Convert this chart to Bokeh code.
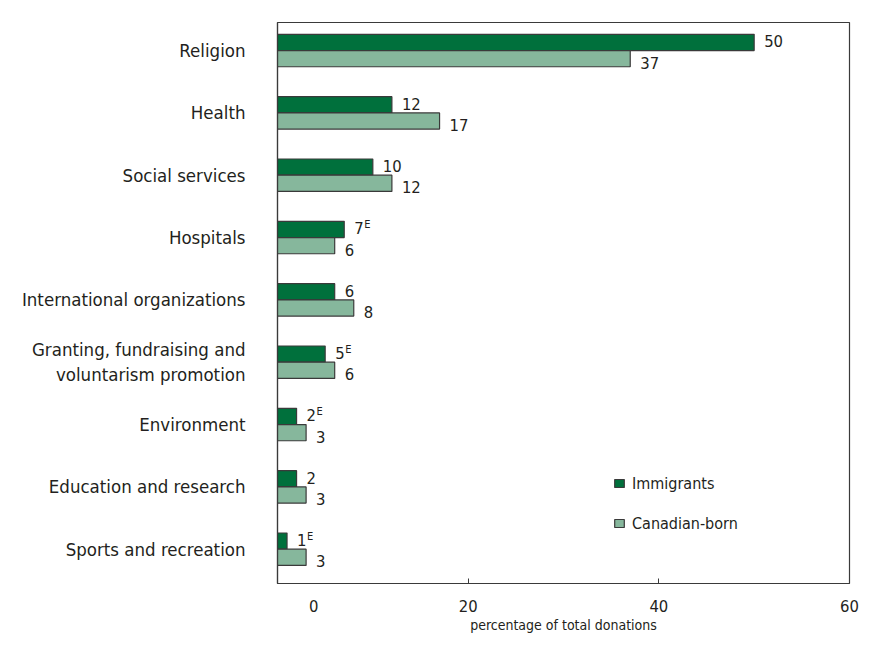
from bokeh.plotting import figure
from bokeh.models import ColumnDataSource, Range1d, FixedTicker, Legend, LegendItem
from bokeh.transform import dodge
from bokeh.core.properties import value
from bokeh.embed import file_html
from bokeh.resources import INLINE

categories = [
    "Religion",
    "Health",
    "Social services",
    "Hospitals",
    "International organizations",
    "Granting, fundraising and\nvoluntarism promotion",
    "Environment",
    "Education and research",
    "Sports and recreation",
]
immigrants = [50, 12, 10, 7, 6, 5, 2, 2, 1]
canadian_born = [37, 17, 12, 6, 8, 6, 3, 3, 3]
immigrant_flags = ["", "", "", "E", "", "E", "E", "", "E"]
x_tick_labels = {3.8: "0", 20: "20", 40: "40", 60: "60"}

FONT = "'DejaVu Sans Condensed', 'Open Sans', sans-serif"
TXT = "#231f20"
DARK = "#00703c"
LIGHT = "#86b79c"
EDGE = "#3a3a3a"

n = len(categories)
ypos = [n - 1 - i for i in range(n)]

src = ColumnDataSource(dict(
    y=ypos,
    imm=immigrants,
    can=canadian_born,
    imm_lbl=[str(v) for v in immigrants],
    can_lbl=[str(v) for v in canadian_born],
    flag=immigrant_flags,
))

p = figure(width=869, height=637, x_range=Range1d(0, 60),
           y_range=Range1d(-0.55, n - 1 + 0.45),
           output_backend="svg", toolbar_location=None,
           min_border_left=277, min_border_right=20,
           min_border_top=22, min_border_bottom=54)

BH = 0.26
r_imm = p.hbar(y=dodge("y", BH / 2, range=p.y_range), right="imm", left=0, height=BH,
               source=src, fill_color=DARK, line_color=EDGE, line_width=1.2)
r_can = p.hbar(y=dodge("y", -BH / 2, range=p.y_range), right="can", left=0, height=BH,
               source=src, fill_color=LIGHT, line_color=EDGE, line_width=1.2)

p.text(x="imm", y=dodge("y", BH / 2, range=p.y_range), text="imm_lbl", source=src,
       x_offset=10, y_offset=-1, text_align="left", text_baseline="middle",
       text_font=value(FONT), text_font_size="16.5px", text_color=TXT)
p.text(x="can", y=dodge("y", -BH / 2, range=p.y_range), text="can_lbl", source=src,
       x_offset=10, y_offset=4, text_align="left", text_baseline="middle",
       text_font=value(FONT), text_font_size="16.5px", text_color=TXT)
p.text(x="imm", y=dodge("y", BH / 2, range=p.y_range), text="flag", source=src,
       x_offset=20, y_offset=-5, text_align="left", text_baseline="middle",
       text_font=value(FONT), text_font_size="11px", text_color=TXT)

# axes
p.xgrid.visible = False
p.ygrid.visible = False
p.outline_line_color = EDGE
p.outline_line_width = 1.2

xa = p.xaxis[0]
xa.ticker = FixedTicker(ticks=list(x_tick_labels.keys()), minor_ticks=[20, 40])
xa.major_label_overrides = x_tick_labels
xa.major_tick_line_color = None
xa.minor_tick_in = 5
xa.minor_tick_out = 0
xa.minor_tick_line_color = EDGE
xa.axis_line_color = EDGE
xa.axis_line_width = 1.2
xa.major_label_standoff = 10
xa.major_label_text_font = FONT
xa.major_label_text_font_size = "16.5px"
xa.major_label_text_color = TXT
xa.axis_label = "percentage of total donations"
xa.axis_label_text_font = FONT
xa.axis_label_text_font_size = "14px"
xa.axis_label_text_font_style = "normal"
xa.axis_label_text_color = TXT
xa.axis_label_standoff = 2

ya = p.yaxis[0]
ya.ticker = FixedTicker(ticks=ypos)
ya.major_label_overrides = {y: c for y, c in zip(ypos, categories)}
ya.major_tick_line_color = None
ya.minor_tick_line_color = None
ya.axis_line_color = EDGE
ya.axis_line_width = 1.2
ya.major_label_standoff = 26
ya.major_label_text_font = FONT
ya.major_label_text_font_size = "18.5px"
ya.major_label_text_color = TXT

legend = Legend(items=[LegendItem(label="Immigrants", renderers=[r_imm]),
                       LegendItem(label="Canadian-born", renderers=[r_can])],
                location=(336, 50), orientation="vertical",
                glyph_width=12, glyph_height=10, label_height=20, spacing=20,
                label_standoff=7, padding=0, margin=0,
                border_line_color=None, background_fill_alpha=0,
                label_text_font=FONT, label_text_font_size="16px",
                label_text_color=TXT)
p.add_layout(legend)

open("out.html", "w").write(file_html(p, INLINE))
